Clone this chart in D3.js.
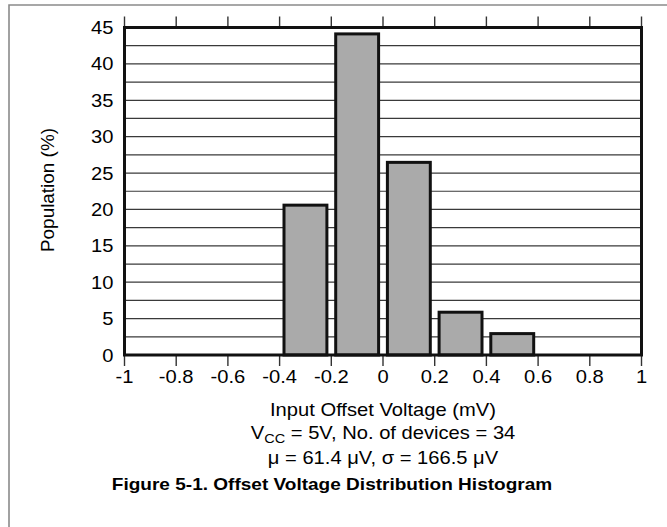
<!DOCTYPE html>
<html>
<head>
<meta charset="utf-8">
<script src="https://cdn.jsdelivr.net/npm/d3@7"></script>
<style>
  html, body { margin: 0; padding: 0; background: #fff; }
  text { font-family: "Liberation Sans", Arial, sans-serif; fill: #000; }
</style>
</head>
<body>
<svg id="chart" width="667" height="527"></svg>
<script>
// ---- data ----
const binLow = [-0.4, -0.2, 0.0, 0.2, 0.4];
const binHigh = [-0.2, 0.0, 0.2, 0.4, 0.6];
const population = [20.59, 44.12, 26.47, 5.88, 2.94];
const xTicks = [-1, -0.8, -0.6, -0.4, -0.2, 0, 0.2, 0.4, 0.6, 0.8, 1];
const xTickLabels = ["-1", "-0.8", "-0.6", "-0.4", "-0.2", "0", "0.2", "0.4", "0.6", "0.8", "1"];
const yTicks = [0, 5, 10, 15, 20, 25, 30, 35, 40, 45];
const yTickLabels = ["0", "5", "10", "15", "20", "25", "30", "35", "40", "45"];
const gridValues = [2.5, 5, 7.5, 10, 12.5, 15, 17.5, 20, 22.5, 25, 27.5, 30, 32.5, 35, 37.5, 40, 42.5];
const xTitle = "Input Offset Voltage (mV)";
const yTitle = "Population (%)";
const noteLine2 = "μ = 61.4 μV, σ = 166.5 μV";
const caption = "Figure 5-1. Offset Voltage Distribution Histogram";

// ---- layout ----
const svg = d3.select("#chart");
const L = 124.5, R = 641.5, T = 27.5, B = 355;
const SX = 1.12; // horizontal text stretch
const x = d3.scaleLinear().domain([-1, 1]).range([L, R]);
const y = d3.scaleLinear().domain([0, 45]).range([B, T]);

// outer frame
svg.append("path").attr("d", "M9,527V5H667").attr("fill", "none")
  .attr("stroke", "#8a8a8a").attr("stroke-width", 1.6);

// gridlines
svg.append("g").selectAll("line").data(gridValues).join("line")
  .attr("x1", L).attr("x2", R)
  .attr("y1", d => y(d)).attr("y2", d => y(d))
  .attr("stroke", "#3a3a3a").attr("stroke-width", 1.2);

// top & bottom ticks
svg.append("g").selectAll("line").data(xTicks).join("line")
  .attr("x1", d => x(d)).attr("x2", d => x(d))
  .attr("y1", T - 11).attr("y2", T)
  .attr("stroke", "#333").attr("stroke-width", 1.4);
svg.append("g").selectAll("line").data(xTicks).join("line")
  .attr("x1", d => x(d)).attr("x2", d => x(d))
  .attr("y1", B).attr("y2", B + 11)
  .attr("stroke", "#333").attr("stroke-width", 1.4);

// bars
const inset = 4.4;
svg.append("g").selectAll("rect").data(population).join("rect")
  .attr("x", (d, i) => x(binLow[i]) + inset)
  .attr("width", (d, i) => x(binHigh[i]) - x(binLow[i]) - 2 * inset)
  .attr("y", d => y(d))
  .attr("height", d => y(0) - y(d))
  .attr("fill", "#aaaaaa").attr("stroke", "#111").attr("stroke-width", 3);

// plot border
svg.append("rect").attr("x", L).attr("y", T).attr("width", R - L).attr("height", B - T)
  .attr("fill", "none").attr("stroke", "#111").attr("stroke-width", 3);

// tick labels
function stretched(sel, px, py, anchor) {
  return sel.attr("transform", `translate(${px},${py}) scale(${SX},1)`).attr("text-anchor", anchor);
}
svg.append("g").selectAll("text").data(yTicks).join("text")
  .each(function(d, i) {
    stretched(d3.select(this), 113.5, y(d) + 6.5, "end")
      .attr("font-size", 18).text(yTickLabels[i]);
  });
svg.append("g").selectAll("text").data(xTicks).join("text")
  .each(function(d, i) {
    stretched(d3.select(this), x(d), 382.5, "middle")
      .attr("font-size", 18).text(xTickLabels[i]);
  });

// axis titles
stretched(svg.append("text"), (L + R) / 2, 415.5, "middle").attr("font-size", 18).text(xTitle);
svg.append("text")
  .attr("transform", `translate(54,190) rotate(-90)`)
  .attr("text-anchor", "middle").attr("font-size", 18)
  .attr("textLength", 124).attr("lengthAdjust", "spacingAndGlyphs")
  .text(yTitle);

// notes
const n1 = stretched(svg.append("text"), (L + R) / 2, 439, "middle").attr("font-size", 18);
n1.append("tspan").text("V");
n1.append("tspan").attr("font-size", 13).attr("dy", 4).text("CC");
n1.append("tspan").attr("dy", -4).text(" = 5V, No. of devices = 34");
stretched(svg.append("text"), (L + R) / 2, 463.5, "middle").attr("font-size", 18).text(noteLine2);

// caption
stretched(svg.append("text"), 332, 490, "middle").attr("font-size", 17)
  .attr("font-weight", "bold").text(caption);
</script>
</body>
</html>
